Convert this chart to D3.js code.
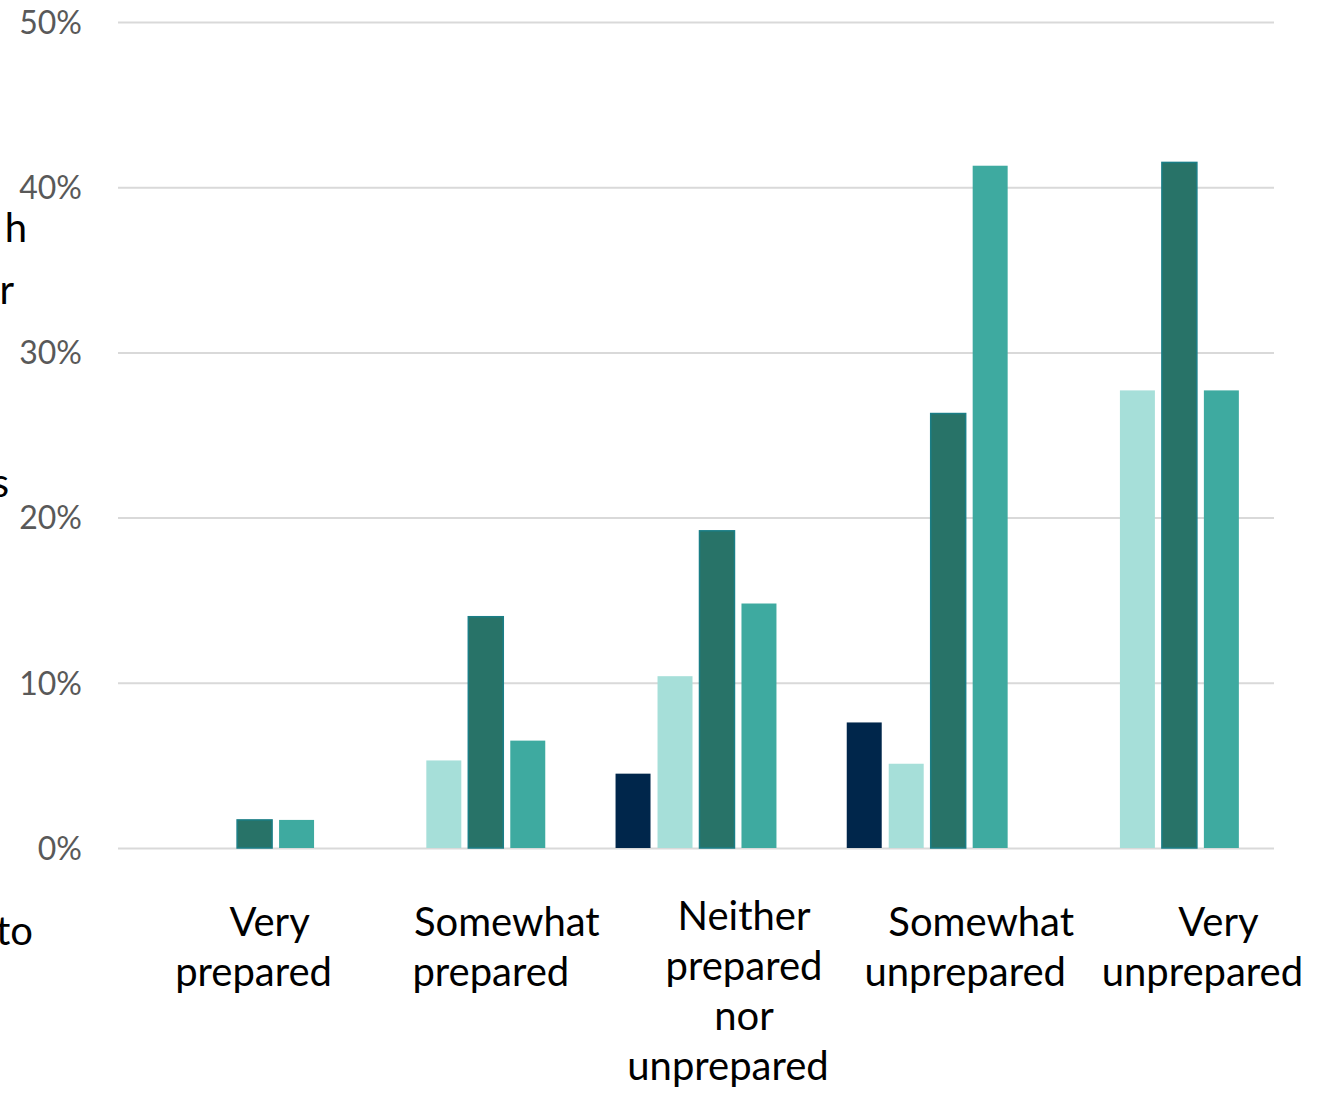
<!DOCTYPE html>
<html>
<head>
<meta charset="utf-8">
<script src="https://cdnjs.cloudflare.com/ajax/libs/d3/7.8.5/d3.min.js"></script>
<style>
  html, body { margin: 0; padding: 0; background: #fff; }
  svg { display: block; }
  .axis text { font-family: Lato, "Open Sans", sans-serif; font-size: 32px; fill: #595959; }
  .axis line { stroke: #d9d9d9; stroke-width: 2; }
  .cat text, .frag { font-family: Lato, "Open Sans", sans-serif; font-size: 40px; fill: #000; }
</style>
</head>
<body>
<div id="chart"></div>
<script>
// categories and their label lines
var categories = ["Very prepared", "Somewhat prepared", "Neither prepared nor unprepared", "Somewhat unprepared", "Very unprepared"];
var categoryLines = [
    ["Very", "prepared"],
    ["Somewhat", "prepared"],
    ["Neither", "prepared", "nor", "unprepared"],
    ["Somewhat", "unprepared"],
    ["Very", "unprepared"]
];

// four series (legend not visible in the picture), values in %
var seriesNames = ["s1", "s2", "s3", "s4"];
var seriesColors = ["#00264b", "#a6dfd9", "#287368", "#3eaaa0"];
var s1 = [0, 0, 4.5, 7.6, 0];
var s2 = [0, 5.3, 10.4, 5.1, 27.7];
var s3 = [1.7, 14.0, 19.2, 26.3, 41.5];
var s4 = [1.7, 6.5, 14.8, 41.3, 27.7];
var seriesValues = [s1, s2, s3, s4];

var yTicks = [0, 10, 20, 30, 40, 50];

// cut-off text fragments at the left edge
var leftFragments = ["h", "r", "s", "to"];

(function(){
    var W = 1327, H = 1095;
    var mLeft = 118, mRight = 1274, mTop = 22, mBottom = 848;

    var svg = d3.select("#chart").append("svg")
        .attr("width", W)
        .attr("height", H);

    var x0 = d3.scaleBand()
        .domain(categories)
        .range([mLeft, mRight])
        .paddingInner(0.304)
        .paddingOuter(0.152);

    var x1 = d3.scaleBand()
        .domain(seriesNames)
        .range([0, x0.bandwidth()])
        .paddingInner(0.1667)
        .paddingOuter(0);

    var y = d3.scaleLinear().domain([0, 50]).range([mBottom, mTop]);

    // gridlines + tick labels
    var yAxis = d3.axisLeft(y)
        .tickValues(yTicks)
        .tickSize(-(mRight - mLeft))
        .tickPadding(36)
        .tickFormat(function(d){ return d + "%"; });

    var gY = svg.append("g")
        .attr("class", "axis")
        .attr("transform", "translate(" + mLeft + ",0)")
        .call(yAxis);
    gY.select(".domain").remove();
    gY.selectAll("text").attr("dy", "0.35em");

    // bars
    var rows = [];
    categories.forEach(function(c, i){
        seriesNames.forEach(function(s, j){
            if (seriesValues[j][i] > 0)
                rows.push({cat: c, series: s, j: j, value: seriesValues[j][i]});
        });
    });

    svg.append("g").selectAll("rect")
        .data(rows)
        .join("rect")
        .attr("x", function(d){ return x0(d.cat) + x1(d.series); })
        .attr("y", function(d){ return y(d.value); })
        .attr("width", x1.bandwidth())
        .attr("height", function(d){ return y(0) - y(d.value); })
        .attr("fill", function(d){ return seriesColors[d.j]; })
        .attr("stroke", function(d){ return d.j === 2 ? "#1a7e86" : "none"; })
        .attr("stroke-width", 1.5);

    // category labels (slightly off-centre like the original)
    var cat = svg.append("g").attr("class", "cat");
    categoryLines.forEach(function(lines, i){
        var cx = x0(categories[i]) + x0.bandwidth() / 2 + 20 + i * 6;
        var y0 = lines.length > 2 ? 930 : 936;
        lines.forEach(function(t, k){
            var last = (k === lines.length - 1) && k > 0;
            cat.append("text")
                .attr("x", cx + (last ? 0 : 16))
                .attr("y", y0 + k * 50)
                .attr("text-anchor", "middle")
                .text(t);
        });
    });

    // fragments of a cropped title on the left
    var fragY = [242, 304, 497, 945];
    var fragX = [27, 14, 9, 33];
    leftFragments.forEach(function(t, i){
        svg.append("text")
            .attr("class", "frag")
            .attr("x", fragX[i])
            .attr("y", fragY[i])
            .attr("text-anchor", "end")
            .text(t);
    });
})();
</script>
</body>
</html>
